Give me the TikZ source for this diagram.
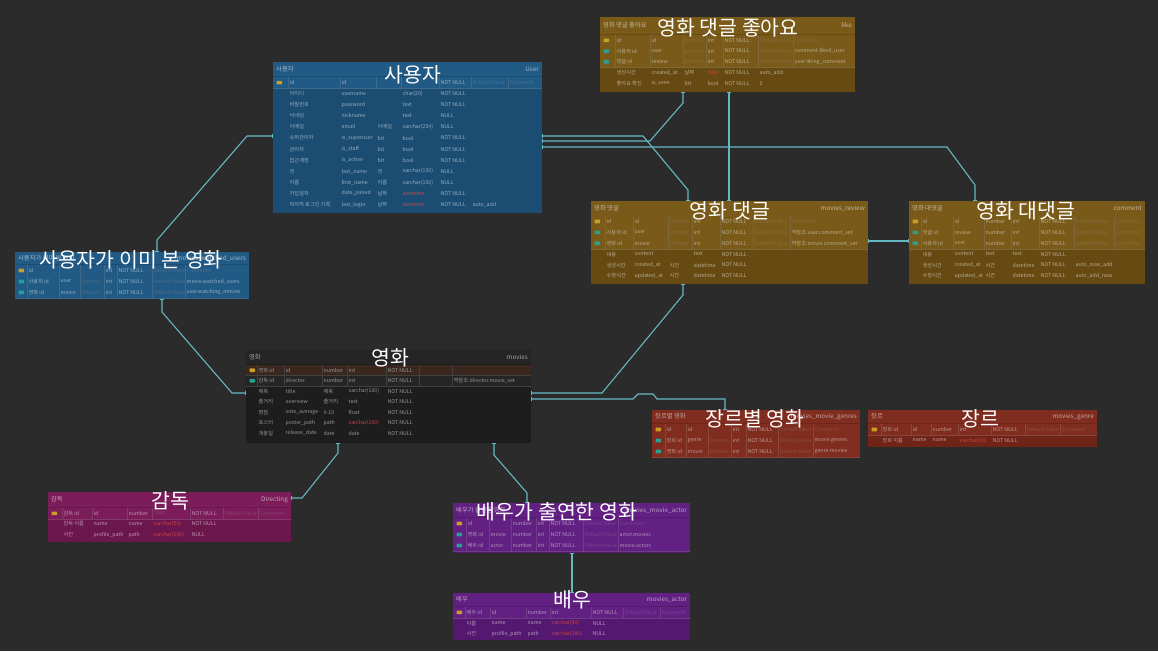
\documentclass[tikz,border=0pt]{standalone}
\usepackage{fontspec}
\setmainfont{Noto Sans CJK KR}
\usetikzlibrary{arrows.meta}
\definecolor{bg}{RGB}{43,43,43}
\definecolor{cblue}{RGB}{27,77,115}
\definecolor{kblue}{RGB}{33,90,133}
\definecolor{cgold}{RGB}{102,74,18}
\definecolor{kgold}{RGB}{122,90,24}
\definecolor{cdark}{RGB}{29,29,29}
\definecolor{kdark}{RGB}{37,37,37}
\definecolor{cred}{RGB}{112,36,24}
\definecolor{kred}{RGB}{128,44,30}
\definecolor{cmag}{RGB}{108,22,78}
\definecolor{kmag}{RGB}{124,28,90}
\definecolor{cpur}{RGB}{84,24,112}
\definecolor{kpur}{RGB}{98,32,130}
\definecolor{conncol}{RGB}{100,184,194}
\definecolor{rdtxt}{RGB}{205,70,70}
\definecolor{pkicon}{RGB}{200,160,40}
\definecolor{fkicon}{RGB}{40,160,150}
\definecolor{moviepk}{RGB}{58,40,30}
\colorlet{tb}{cblue}
\colorlet{kf}{kblue}
\newcommand\fa[1]{{\color{white!20!tb}#1}}
\newcommand\rd[1]{{\color{rdtxt}#1}}
\newcommand\cols[9]{\def\cA{#1}\def\cB{#2}\def\cC{#3}\def\cD{#4}\def\cE{#5}\def\cF{#6}\def\cG{#7}\def\cH{#8}\def\cI{#9}}
\newcommand\erow[8]{%
  \pgfmathsetmacro\ym{\ryz+#1*\rh+\rh/2}%
  \node[cell] at ({\cB+1.5},\ym) {#2};
  \node[cell] at ({\cC+1.5},\ym) {#3};
  \node[cell] at ({\cD+1.5},\ym) {#4};
  \node[cell] at ({\cE+1.5},\ym) {#5};
  \node[cell] at ({\cF+1.5},\ym) {#6};
  \node[cell] at ({\cG+1.5},\ym) {#7};
  \node[cell] at ({\cH+1.5},\ym) {#8};
}
\newcommand\keyrow[3][kf]{%
  \pgfmathsetmacro\yt{\ryz+#2*\rh}%
  \pgfmathsetmacro\yb{\ryz+#2*\rh+\rh}%
  \fill[#1] (\cA,\yt) rectangle (\cI,\yb);
  \foreach \xx in {\cB,\cC,\cD,\cE,\cF,\cG,\cH} \draw[keyline] (\xx,\yt) -- (\xx,\yb);
  \draw[keyline] (\cA,\yb) -- (\cI,\yb);
  \fill[#3, rounded corners=0.6pt] ({\cA+3.5},{\yt+\rh/2-1.8}) rectangle ++(5.5,3.6);
}
\newcommand\etable[9]{%
  \pgfmathsetmacro\tw{#4-#2}\pgfmathsetmacro\th{#5-#3}%
  \node[tbox,fill=tb,minimum width=\tw pt,minimum height=\th pt,anchor=north west] (#1) at (#2,#3) {};
  \fill[kf] (#2,#3) rectangle (#4,#6);
  \node[hd,anchor=west] (#1-l) at ({#2+3},{(#3+#6)/2}) {#8};
  \node[hd,anchor=east] (#1-r) at ({#4-3},{(#3+#6)/2}) {#9};
}
\begin{document}
\begin{tikzpicture}[x=1pt,y=-1pt,
  tbox/.style={draw=none,inner sep=0pt,outer sep=0pt,rectangle},
  cell/.style={anchor=west,inner sep=0pt,text=white!55!tb,font=\fontsize{5.2}{5.2}\selectfont},
  hd/.style={inner sep=0pt,text=white!60!tb,font=\fontsize{6.3}{6.3}\selectfont},
  keyline/.style={draw=white!16!tb,line width=0.4pt},
  ttl/.style={inner sep=0pt,text=white,font=\fontsize{20.5}{20.5}\selectfont},
  conn/.style={draw=conncol,line width=1.1pt,{Bar[width=4.5pt,line width=1pt]}-{Bar[width=4.5pt,line width=1pt]}}
]
\fill[bg] (0,0) rectangle (1158,651);
\useasboundingbox (0,0) rectangle (1158,651);

% ---------- User
\colorlet{tb}{cblue}\colorlet{kf}{kblue}
\etable{user}{273}{62}{542}{213}{76}{cblue}{사용자}{User}
\cols{273}{288}{340}{376}{401}{439}{471}{508}{542}
\def\ryz{77}\def\rh{11.1}
\keyrow{0}{pkicon}
\erow{0}{id}{id}{}{}{NOT NULL}{\fa{Default Value}}{\fa{Comment}}
\erow{1}{아이디}{username}{}{char(20)}{NOT NULL}{}{}
\erow{2}{비밀번호}{password}{}{text}{NOT NULL}{}{}
\erow{3}{닉네임}{nickname}{}{text}{NULL}{}{}
\erow{4}{이메일}{email}{이메일}{varchar(254)}{NULL}{}{}
\erow{5}{슈퍼관리자}{is\_superuser}{bit}{bool}{NOT NULL}{}{}
\erow{6}{관리자}{is\_staff}{bit}{bool}{NOT NULL}{}{}
\erow{7}{접근계정}{is\_active}{bit}{bool}{NOT NULL}{}{}
\erow{8}{성}{last\_name}{성}{varchar(150)}{NULL}{}{}
\erow{9}{이름}{first\_name}{이름}{varchar(150)}{NULL}{}{}
\erow{10}{가입일자}{date\_joined}{날짜}{\rd{datetime}}{NOT NULL}{}{}
\erow{11}{마지막 로그인 기록}{last\_login}{날짜}{\rd{datetime}}{NOT NULL}{auto\_add}{}

% ---------- Like
\colorlet{tb}{cgold}\colorlet{kf}{kgold}
\etable{like}{600}{17}{855}{92}{34}{cgold}{영화 댓글 좋아요}{like}
\cols{600}{615}{650}{683}{706}{723}{758}{793}{855}
\def\ryz{35}\def\rh{10.7}
\keyrow{0}{pkicon}\keyrow{1}{fkicon}\keyrow{2}{fkicon}
\erow{0}{id}{id}{\fa{Domain}}{int}{NOT NULL}{\fa{Default Value}}{\fa{Comment}}
\erow{1}{사용자 id}{user}{\fa{Domain}}{int}{NOT NULL}{\fa{Default Value}}{comment.liked\_user}
\erow{2}{댓글 id}{review}{\fa{Domain}}{int}{NOT NULL}{\fa{Default Value}}{user.liking\_comment}
\erow{3}{생성시간}{created\_at}{날짜}{\rd{date}}{NOT NULL}{auto\_add}{}
\erow{4}{좋아요 확인}{is\_seen}{bit}{bool}{NOT NULL}{0}{}

% ---------- Review
\etable{review}{591}{201}{868}{284}{216}{cgold}{영화 댓글}{movies\_review}
\cols{591}{605}{633}{668}{692}{720}{753}{790}{868}
\def\ryz{216}\def\rh{10.9}
\keyrow{0}{pkicon}\keyrow{1}{fkicon}\keyrow{2}{fkicon}
\erow{0}{id}{id}{\fa{Domain}}{int}{NOT NULL}{\fa{Default Value}}{\fa{Comment}}
\erow{1}{사용자 id}{user}{\fa{Domain}}{int}{NOT NULL}{\fa{Default Value}}{역참조:user.comment\_set}
\erow{2}{영화 id}{movie}{\fa{Domain}}{int}{NOT NULL}{\fa{Default Value}}{역참조:movie.comment\_set}
\erow{3}{내용}{content}{}{text}{NOT NULL}{}{}
\erow{4}{생성시간}{created\_at}{시간}{datetime}{NOT NULL}{}{}
\erow{5}{수정시간}{updated\_at}{시간}{datetime}{NOT NULL}{}{}

% ---------- Comment
\etable{comment}{909}{201}{1145}{284}{216}{cgold}{영화 대댓글}{comment}
\cols{909}{921}{953}{984}{1011}{1039}{1074}{1114}{1145}
\def\ryz{216}\def\rh{10.9}
\keyrow{0}{pkicon}\keyrow{1}{fkicon}\keyrow{2}{fkicon}
\erow{0}{id}{id}{number}{int}{NOT NULL}{\fa{Default Value}}{\fa{Comment}}
\erow{1}{댓글 id}{review}{number}{int}{NOT NULL}{\fa{Default Value}}{\fa{Comment}}
\erow{2}{사용자 id}{user}{number}{int}{NOT NULL}{\fa{Default Value}}{\fa{Comment}}
\erow{3}{내용}{content}{text}{text}{NOT NULL}{}{}
\erow{4}{생성시간}{created\_at}{시간}{datetime}{NOT NULL}{auto\_now\_add}{}
\erow{5}{수정시간}{updated\_at}{시간}{datetime}{NOT NULL}{auto\_add\_now}{}

% ---------- Watched
\colorlet{tb}{cblue}\colorlet{kf}{kblue}
\etable{watched}{15}{252}{249}{299}{264}{cblue}{사용자가 이미 본 영화}{movies\_watched\_users}
\cols{15}{27}{59}{80}{104}{117}{152}{185}{249}
\def\ryz{265}\def\rh{11}
\keyrow{0}{pkicon}\keyrow{1}{fkicon}\keyrow{2}{fkicon}
\erow{0}{id}{}{}{int}{NOT NULL}{\fa{Default Value}}{\fa{Comment}}
\erow{1}{사용자 id}{user}{\fa{Domain}}{int}{NOT NULL}{\fa{Default Value}}{movie.watched\_users}
\erow{2}{영화 id}{movie}{\fa{Domain}}{int}{NOT NULL}{\fa{Default Value}}{user.watching\_movies}

% ---------- Movies
\colorlet{tb}{cdark}\colorlet{kf}{kdark}
\etable{movies}{246}{350}{531}{443}{364}{cdark}{영화}{movies}
\cols{246}{257}{284}{322}{347}{386}{419}{452}{531}
\def\ryz{365}\def\rh{10.5}
\keyrow[moviepk]{0}{pkicon}\keyrow{1}{fkicon}
\erow{0}{영화 id}{id}{number}{int}{NOT NULL}{}{}
\erow{1}{감독 id}{director}{number}{int}{NOT NULL}{}{역참조:director.movie\_set}
\erow{2}{제목}{title}{제목}{varchar(100)}{NOT NULL}{}{}
\erow{3}{줄거리}{overview}{줄거리}{text}{NOT NULL}{}{}
\erow{4}{평점}{vote\_average}{0-10}{float}{NOT NULL}{}{}
\erow{5}{포스터}{poster\_path}{path}{\rd{varchar(200)}}{NOT NULL}{}{}
\erow{6}{개봉일}{release\_date}{date}{date}{NOT NULL}{}{}

% ---------- Movie genre
\colorlet{tb}{cred}\colorlet{kf}{kred}
\etable{mgenre}{652}{410}{860}{458}{423}{cred}{장르별 영화}{movies\_movie\_genres}
\cols{652}{665}{686}{708}{731}{746}{778}{813}{860}
\def\ryz{424}\def\rh{11}
\keyrow{0}{pkicon}\keyrow{1}{fkicon}\keyrow{2}{fkicon}
\erow{0}{id}{id}{}{int}{NOT NULL}{\fa{Default Value}}{\fa{Comment}}
\erow{1}{장르 id}{genre}{\fa{Domain}}{int}{NOT NULL}{\fa{Default Value}}{movie.genres}
\erow{2}{영화 id}{movie}{\fa{Domain}}{int}{NOT NULL}{\fa{Default Value}}{genre.movies}

% ---------- Genre
\etable{genre}{868}{410}{1097}{447}{423}{cred}{장르}{movies\_genre}
\cols{868}{881}{911}{931}{958}{991}{1025}{1060}{1097}
\def\ryz{424}\def\rh{11}
\keyrow{0}{pkicon}
\erow{0}{장르 id}{id}{number}{int}{NOT NULL}{\fa{Default Value}}{\fa{Comment}}
\erow{1}{장르 이름}{name}{name}{\rd{varchar(50)}}{NOT NULL}{}{}

% ---------- Directing
\colorlet{tb}{cmag}\colorlet{kf}{kmag}
\etable{directing}{48}{492}{291}{542}{507}{cmag}{감독}{Directing}
\cols{48}{62}{92}{127}{152}{190}{223}{258}{291}
\def\ryz{508}\def\rh{10.7}
\keyrow{0}{pkicon}
\erow{0}{감독 id}{id}{number}{\fa{Type}}{NOT NULL}{\fa{Default Value}}{\fa{Comment}}
\erow{1}{감독 이름}{name}{name}{\rd{varchar(50)}}{NOT NULL}{}{}
\erow{2}{사진}{profile\_path}{path}{\rd{varchar(200)}}{NULL}{}{}

% ---------- Actor-movie
\colorlet{tb}{cpur}\colorlet{kf}{kpur}
\etable{actmov}{453}{503}{690}{553}{517}{cpur}{배우가 출연한 영화}{movies\_movie\_actor}
\cols{453}{466}{489}{511}{536}{549}{583}{618}{690}
\def\ryz{518}\def\rh{11}
\keyrow{0}{pkicon}\keyrow{1}{fkicon}\keyrow{2}{fkicon}
\erow{0}{id}{}{number}{int}{NOT NULL}{\fa{Default Value}}{\fa{Comment}}
\erow{1}{영화 id}{movie}{number}{int}{NOT NULL}{\fa{Default Value}}{actor.movies}
\erow{2}{배우 id}{actor}{number}{int}{NOT NULL}{\fa{Default Value}}{movie.actors}

% ---------- Actor
\etable{actor}{453}{593}{690}{640}{606}{cpur}{배우}{movies\_actor}
\cols{453}{465}{490}{526}{550}{591}{623}{660}{690}
\def\ryz{607}\def\rh{10.8}
\keyrow{0}{pkicon}
\erow{0}{배우 id}{id}{number}{int}{NOT NULL}{\fa{Default Value}}{\fa{Comment}}
\erow{1}{이름}{name}{name}{\rd{varchar(50)}}{NULL}{}{}
\erow{2}{사진}{profile\_path}{path}{\rd{varchar(200)}}{NULL}{}{}

% ---------- Connectors
\draw[conn] ([yshift=-74pt]user.north west) -- (247,136) -- (157,240) -- ([xshift=142pt]watched.north west);
\draw[conn] ([xshift=147pt]watched.south west) -- (162,312) -- (232,393) -- ([yshift=-43pt]movies.north west);
\draw[conn] ([xshift=92pt]movies.south west) -- (338,453) -- (302,498) -- ([yshift=-6pt]directing.north east);
\draw[conn] ([xshift=248pt]movies.south west) -- (494,455) -- (527,493) -- ([xshift=74pt]actmov.north west);
\draw[conn] ([xshift=119pt]actor.north west) -- ([xshift=119pt]actmov.south west);
\draw[conn] ([yshift=-74pt]user.north east) -- (643,136) -- (688,190) -- ([xshift=97pt]review.north west);
\draw[conn] ([yshift=-79pt]user.north east) -- (650,141) -- (683,103) -- ([xshift=83pt]like.south west);
\draw[conn] ([xshift=129pt]like.south west) -- ([xshift=138pt]review.north west);
\draw[conn] ([yshift=-85pt]user.north east) -- (947,147) -- (975,185) -- ([xshift=66pt]comment.north west);
\draw[conn] ([yshift=-40pt]review.north east) -- ([yshift=-40pt]comment.north west);
\draw[conn] ([xshift=92pt]review.south west) -- (683,295) -- (602,393) -- ([yshift=-43pt]movies.north east);
\draw[conn] ([yshift=-49pt]movies.north east) -- (633,399) -- (638,394) -- (653,394) -- (657,399) -- (725,399) -- ([xshift=73pt]mgenre.north west);

% ---------- Titles
\node[ttl] (t-user) at (413,75) {사용자};
\node[ttl] (t-like) at (728,28) {영화 댓글 좋아요};
\node[ttl] (t-review) at (730,211) {영화 댓글};
\node[ttl] (t-comment) at (1026,211) {영화 대댓글};
\node[ttl] (t-watched) at (131,260) {사용자가 이미 본 영화};
\node[ttl] (t-movies) at (390,358) {영화};
\node[ttl] (t-mgenre) at (755,419) {장르별 영화};
\node[ttl] (t-genre) at (980,419) {장르};
\node[ttl] (t-directing) at (170,501) {감독};
\node[ttl] (t-actmov) at (557,512) {배우가 출연한 영화};
\node[ttl] (t-actor) at (572,600) {배우};
\end{tikzpicture}
\end{document}
